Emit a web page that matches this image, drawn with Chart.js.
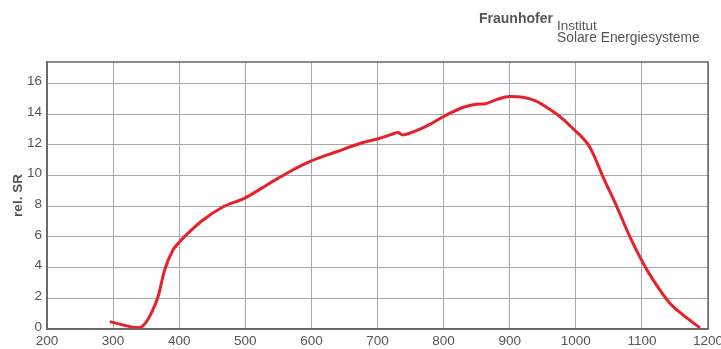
<!DOCTYPE html>
<html>
<head>
<meta charset="utf-8">
<script src="https://cdn.jsdelivr.net/npm/chart.js@4/dist/chart.umd.min.js"></script>
<style>
  html, body { margin: 0; padding: 0; background: #fff; }
  #wrap { position: relative; width: 721px; height: 349px; overflow: hidden; }
  canvas { position: absolute; left: 0; top: 0; }
  .t { position: absolute; font-family: "Liberation Sans", Arial, sans-serif; color: #555; white-space: nowrap; line-height: 1; }
</style>
</head>
<body>
<div id="wrap">
  <canvas id="c" width="721" height="349"></canvas>
  <div class="t" style="left:479px; top:11px; font-size:14px; font-weight:bold;">Fraunhofer</div>
  <div class="t" style="left:557px; top:19px; font-size:13.5px;">Institut</div>
  <div class="t" style="left:557px; top:31px; font-size:13.8px;">Solare Energiesysteme</div>
</div>
<script>
const wavelengths = [295, 340, 350, 358, 368, 378, 390, 400, 410, 436, 466, 500, 537, 567, 600, 638, 678, 701, 719, 731, 738, 760, 780, 800, 830, 850, 862, 880, 900, 920, 940, 961, 980, 996, 1019, 1026, 1041, 1062, 1082, 1102, 1117, 1142, 1168, 1188];
const relSR = [0.48, 0.08, 0.45, 1.05, 2.1, 3.85, 5.1, 5.65, 6.1, 7.1, 7.95, 8.55, 9.5, 10.25, 10.95, 11.55, 12.15, 12.4, 12.65, 12.8, 12.65, 12.95, 13.35, 13.85, 14.45, 14.65, 14.67, 14.95, 15.15, 15.1, 14.85, 14.3, 13.7, 13.05, 12.0, 11.45, 9.93, 7.98, 5.99, 4.29, 3.2, 1.69, 0.72, 0.07];
const xTickValues = [200, 300, 400, 500, 600, 700, 800, 900, 1000, 1100, 1200];
const yTickValues = [0, 2, 4, 6, 8, 10, 12, 14, 16];
const yAxisTitle = 'rel. SR';

const points = wavelengths.map((w, i) => ({ x: w, y: relSR[i] }));

const frame = {
  id: 'frame',
  afterDraw(chart) {
    const a = chart.chartArea, ctx = chart.ctx;
    ctx.save();
    ctx.strokeStyle = '#666';
    ctx.lineWidth = 1.5;
    ctx.strokeRect(a.left, a.top, a.right - a.left, a.bottom - a.top);
    ctx.restore();
  }
};

new Chart(document.getElementById('c'), {
  type: 'line',
  data: {
    datasets: [{
      data: points,
      borderColor: '#e8202a',
      borderWidth: 3,
      pointRadius: 0,
      fill: false,
      cubicInterpolationMode: 'monotone'
    }]
  },
  options: {
    responsive: false,
    animation: false,
    events: [],
    layout: { padding: { top: 62, right: 13, left: 0, bottom: 0 } },
    plugins: { legend: { display: false }, tooltip: { enabled: false } },
    scales: {
      x: {
        type: 'linear',
        min: 200, max: 1200,
        afterBuildTicks(s) { s.ticks = xTickValues.map(v => ({ value: v })); },
        afterFit(s) { s.height = 20; s.paddingLeft = 0; s.paddingRight = 0; },
        grid: { color: '#a8a8a8', lineWidth: 1, drawTicks: false },
        border: { color: '#666', width: 1.5 },
        ticks: {
          color: '#555',
          font: { family: 'Liberation Sans, Arial', size: 13.5 },
          padding: 4,
          maxRotation: 0,
          autoSkip: false,
          callback: v => String(v)
        }
      },
      y: {
        type: 'linear',
        min: 0, max: 17.4,
        afterBuildTicks(s) { s.ticks = yTickValues.map(v => ({ value: v })); },
        afterFit(s) { s.width = 47; s.paddingTop = 0; s.paddingBottom = 0; },
        grid: { color: '#a8a8a8', lineWidth: 1, drawTicks: false },
        border: { color: '#666', width: 1.5 },
        title: {
          display: true,
          text: yAxisTitle,
          color: '#555',
          font: { family: 'Liberation Sans, Arial', size: 13.5, weight: 'bold' },
          padding: { top: 10, bottom: 0 }
        },
        ticks: {
          color: '#555',
          font: { family: 'Liberation Sans, Arial', size: 13.5 },
          padding: 5,
          labelOffset: -2,
          callback: v => String(v)
        }
      }
    }
  },
  plugins: [frame]
});
</script>
</body>
</html>
